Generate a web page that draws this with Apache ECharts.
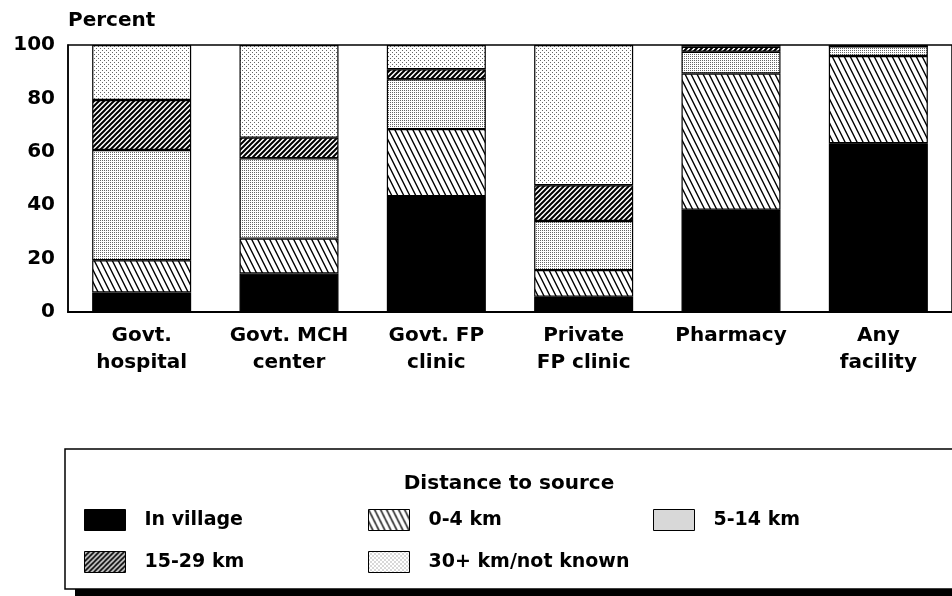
<!DOCTYPE html>
<html>
<head>
<meta charset="utf-8">
<script src="https://cdn.jsdelivr.net/npm/echarts@6/dist/echarts.min.js"></script>
<style>
  html, body { margin: 0; padding: 0; background: #fff; }
  #main { width: 952px; height: 596px; }
</style>
</head>
<body>
<div id="main"></div>
<script>
// data (percent of women)
var categories = ['Govt.\nhospital', 'Govt. MCH\ncenter', 'Govt. FP\nclinic', 'Private\nFP clinic', 'Pharmacy', 'Any\nfacility']
var seriesNames = ['In village', '0-4 km', '5-14 km', '15-29 km', '30+ km/not known']
var inVillage = [7.3, 14.4, 43.4, 5.7, 38.3, 63.2]
var km0to4 = [12.1, 13.1, 25.1, 10.0, 51.0, 32.7]
var km5to14 = [41.3, 30.1, 18.7, 18.4, 8.2, 3.6]
var km15to29 = [18.7, 7.7, 3.7, 13.4, 1.8, 0]
var km30plus = [20.6, 34.7, 9.1, 52.5, 0.7, 0.5]
var yTicks = [0, 20, 40, 60, 80, 100]

var FONT = 'DejaVu Sans'

// little canvas tiles used as fill patterns
function tile(w, h, draw) {
    var c = document.createElement('canvas')
    c.width = w
    c.height = h
    var ctx = c.getContext('2d')
    ctx.fillStyle = '#fff'
    ctx.fillRect(0, 0, w, h)
    draw(ctx)
    return { image: c, repeat: 'repeat' }
}
// 0-4 km: back-slash hatching, steep
var hatchBack = tile(6, 12, function (ctx) {
    ctx.strokeStyle = '#000'
    ctx.lineWidth = 1.4
    ctx.beginPath()
    ctx.moveTo(-6, -12); ctx.lineTo(12, 24)
    ctx.moveTo(0, -12); ctx.lineTo(18, 24)
    ctx.moveTo(-12, -12); ctx.lineTo(6, 24)
    ctx.stroke()
})
// 15-29 km: dense forward-slash hatching
var hatchFwd = tile(5, 5, function (ctx) {
    ctx.strokeStyle = '#000'
    ctx.lineWidth = 2
    ctx.beginPath()
    ctx.moveTo(-1, 6); ctx.lineTo(6, -1)
    ctx.moveTo(-1, 1); ctx.lineTo(1, -1)
    ctx.moveTo(4, 6); ctx.lineTo(6, 4)
    ctx.stroke()
})
// 5-14 km: fine dense dots
var dotsDense = tile(2, 2, function (ctx) {
    ctx.fillStyle = '#666'
    ctx.fillRect(0, 0, 1, 1)
})
// 30+ km: sparse dots
var dotsSparse = tile(4, 4, function (ctx) {
    ctx.fillStyle = '#666'
    ctx.fillRect(0, 0, 1, 1)
    ctx.fillRect(2, 2, 1, 1)
})

var fills = ['#000', hatchBack, dotsDense, hatchFwd, dotsSparse]
var values = [inVillage, km0to4, km5to14, km15to29, km30plus]

var chart = echarts.init(document.getElementById('main'))

var series = seriesNames.map(function (name, i) {
    return {
        name: name,
        type: 'bar',
        stack: 'total',
        barWidth: 99,
        data: values[i],
        itemStyle: { color: fills[i], borderColor: '#000', borderWidth: 1.2 },
        emphasis: { disabled: true }
    }
})

// one legend per slot so the three columns line up
var legendSlots = [
    { left: 84, top: 509 }, { left: 368, top: 509 }, { left: 653, top: 509 },
    { left: 84, top: 551 }, { left: 368, top: 551 }
]
var legends = seriesNames.map(function (name, i) {
    return {
        data: [name],
        left: legendSlots[i].left,
        top: legendSlots[i].top,
        padding: 0,
        itemWidth: 41,
        itemHeight: 21,
        icon: 'rect',
        selectedMode: false,
        itemStyle: { borderColor: '#000', borderWidth: 1 },
        textStyle: { fontFamily: FONT, fontWeight: 'bold', fontSize: 19, color: '#000', padding: [0, 0, 0, 14] }
    }
})

chart.setOption({
    animation: false,
    grid: {
        left: 68, top: 45, width: 894, height: 267,
        show: true, borderColor: '#000', borderWidth: 1.5,
        containLabel: false
    },
    xAxis: {
        type: 'category',
        data: categories,
        axisLine: { lineStyle: { color: '#000', width: 2 } },
        axisTick: { show: false },
        axisLabel: {
            interval: 0, margin: 10, color: '#000',
            fontFamily: FONT, fontWeight: 'bold', fontSize: 20, lineHeight: 27
        }
    },
    yAxis: {
        type: 'value',
        min: yTicks[0], max: yTicks[yTicks.length - 1], interval: 20,
        name: 'Percent',
        nameLocation: 'end',
        nameGap: 14,
        nameTextStyle: { align: 'left', verticalAlign: 'bottom', color: '#000', fontFamily: FONT, fontWeight: 'bold', fontSize: 20 },
        splitLine: { show: false },
        axisLine: { show: true, lineStyle: { color: '#000', width: 1.5 } },
        axisTick: { show: false },
        axisLabel: { margin: 13, color: '#000', fontFamily: FONT, fontWeight: 'bold', fontSize: 20 }
    },
    legend: legends,
    graphic: [
        // shadow under the legend box
        { type: 'rect', z: 0, shape: { x: 75, y: 460, width: 900, height: 140 }, style: { fill: '#000' } },
        { type: 'rect', z: 1, shape: { x: 65, y: 449, width: 900, height: 140 }, style: { fill: '#fff', stroke: '#000', lineWidth: 1.5 } },
        {
            type: 'text', z: 2, x: 509, y: 484,
            style: { text: 'Distance to source', fill: '#000', font: 'bold 20px "DejaVu Sans"', textAlign: 'center', textVerticalAlign: 'middle' }
        }
    ],
    series: series
})
</script>
</body>
</html>
